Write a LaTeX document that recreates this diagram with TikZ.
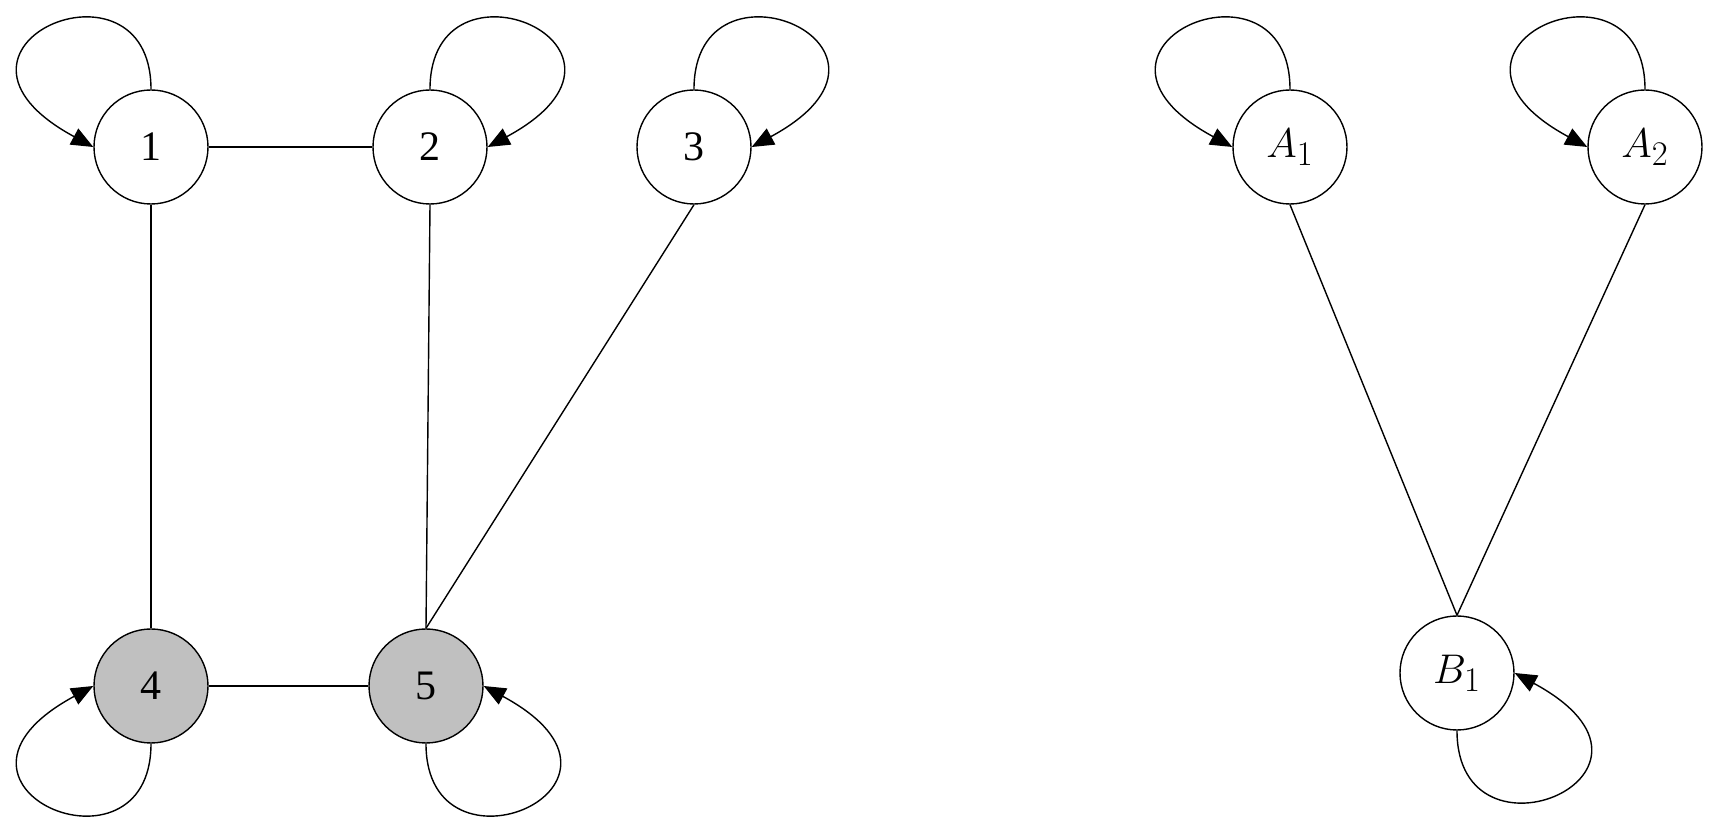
\documentclass[tikz,border=0pt]{standalone}
\usepackage{fontspec}
\setmainfont{Liberation Serif}
\usetikzlibrary{arrows.meta,shapes}
\newcommand{\gscale}{0.5pt}
\newcommand{\vertsize}{57pt}
\newcommand{\lwidth}{0.7pt}
\definecolor{vgray}{RGB}{192,192,192}
\DeclareMathSizes{21}{21}{17}{14}

\begin{document}
\begin{tikzpicture}[x=\gscale,y=-\gscale]
	\tikzset{VertexStyle/.style = {circle, draw, fill=white, line width=\lwidth, minimum size=\vertsize, inner sep=0pt, font=\fontsize{21}{25}\selectfont},
		EdgeStyle/.style = {line width=\lwidth},
		LoopStyle/.style = {line width=\lwidth, -{Triangle[length=11pt,width=9pt]}}}
	\useasboundingbox (0,0) rectangle (1726,833);
	%\draw[help lines] (0,0) grid[step=100] (1726,833);
	\begin{scope}
	\node[VertexStyle] (v1) at (151,147) {1};
	\node[VertexStyle] (v2) at (430,147) {2};
	\node[VertexStyle] (v3) at (694,147) {3};
	\node[VertexStyle, fill=vgray] (v4) at (151,686) {4};
	\node[VertexStyle, fill=vgray] (v5) at (426,686) {5};
	\draw[EdgeStyle] (v1.east) -- (v2.west);
	\draw[EdgeStyle] (v4.east) -- (v5.west);
	\draw[EdgeStyle] (v1.south) -- (v4.north);
	\draw[EdgeStyle] (v2.south) -- (v5.north);
	\draw[EdgeStyle] (v3.south) -- (v5.north);
	% loops
	\draw[LoopStyle] (v1.north) .. controls +(0,-145) and +(-185,-100) .. (v1.west);
	\draw[LoopStyle] (v2.north) .. controls +(0,-145) and +(185,-100) .. (v2.east);
	\draw[LoopStyle] (v3.north) .. controls +(0,-145) and +(185,-100) .. (v3.east);
	\draw[LoopStyle] (v4.south) .. controls +(0,145) and +(-185,100) .. (v4.west);
	\draw[LoopStyle] (v5.south) .. controls +(0,145) and +(185,100) .. (v5.east);
	\end{scope}
	\begin{scope}
	\node[VertexStyle] (a1) at (1290,147) {$A_1$};
	\node[VertexStyle] (a2) at (1645,147) {$A_2$};
	\node[VertexStyle] (b1) at (1457,673) {$B_1$};
	\draw[EdgeStyle] (a1.south) -- (b1.north);
	\draw[EdgeStyle] (a2.south) -- (b1.north);
	% loops
	\draw[LoopStyle] (a1.north) .. controls +(0,-145) and +(-185,-100) .. (a1.west);
	\draw[LoopStyle] (a2.north) .. controls +(0,-145) and +(-185,-100) .. (a2.west);
	\draw[LoopStyle] (b1.south) .. controls +(0,145) and +(185,100) .. (b1.east);
	\end{scope}
\end{tikzpicture}
\end{document}
